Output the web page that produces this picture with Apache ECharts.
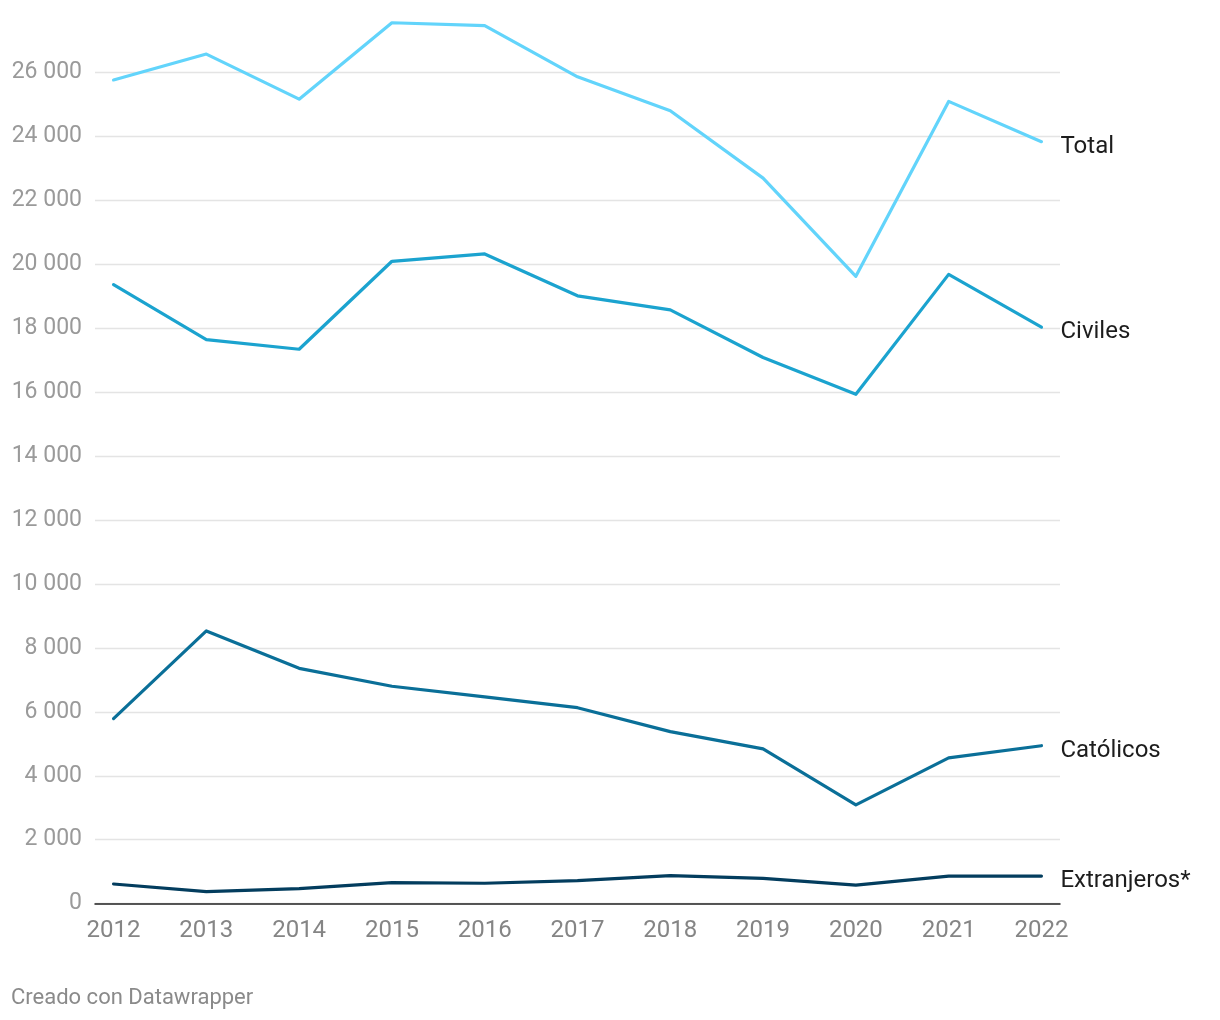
<!DOCTYPE html>
<html>
<head>
<meta charset="utf-8">
<script src="https://cdn.jsdelivr.net/npm/echarts@6/dist/echarts.min.js"></script>
<style>
html,body{margin:0;padding:0;background:#fff;}
#chart{width:1220px;height:1020px;}
</style>
</head>
<body>
<div id="chart"></div>
<script>
const years = [2012, 2013, 2014, 2015, 2016, 2017, 2018, 2019, 2020, 2021, 2022];
const total = [25760, 26570, 25160, 27550, 27460, 25860, 24800, 22690, 19620, 25090, 23830];
const civiles = [19360, 17640, 17340, 20090, 20320, 19010, 18570, 17080, 15930, 19680, 18030];
const catolicos = [5790, 8530, 7360, 6800, 6470, 6130, 5380, 4840, 3090, 4560, 4940];
const extranjeros = [616, 375, 470, 660, 640, 720, 875, 790, 580, 860, 865];
const seriesNames = ['Total', 'Civiles', 'Católicos', 'Extranjeros*'];
const yTicks = [0, 2000, 4000, 6000, 8000, 10000, 12000, 14000, 16000, 18000, 20000, 22000, 24000, 26000];

const colors = ['#62d4fb', '#1ba3cf', '#0a6f98', '#033d5e'];
const dataSets = [total, civiles, catolicos, extranjeros];

const chart = echarts.init(document.getElementById('chart'));
const FONT = 'Roboto';

chart.setOption({
  backgroundColor: '#ffffff',
  animation: false,
  textStyle: { fontFamily: FONT },
  grid: { left: 95, right: 160, top: 72.3, bottom: 116.3, containLabel: false },
  xAxis: {
    type: 'value',
    min: 2011.8,
    max: 2022.2,
    axisLine: { show: true, onZero: false, lineStyle: { color: '#222', width: 1.5 } },
    axisTick: { show: false },
    splitLine: { show: false },
    axisLabel: {
      customValues: years,
      color: '#858585',
      fontSize: 24,
      fontFamily: FONT,
      margin: 15,
      formatter: v => String(Math.round(v))
    }
  },
  yAxis: {
    type: 'value',
    min: 0,
    max: 26000,
    interval: 2000,
    axisLine: { show: false },
    axisTick: { show: false },
    splitLine: { show: true, lineStyle: { color: '#e4e4e4', width: 1.3 } },
    axisLabel: {
      color: '#9a9a9a',
      fontSize: 23,
      fontFamily: FONT,
      margin: 13,
      formatter: v => String(v).replace(/\B(?=(\d{3})+(?!\d))/g, ' ')
    }
  },
  series: dataSets.map((d, i) => ({
    name: seriesNames[i],
    type: 'line',
    clip: false,
    symbol: 'none',
    z: 10 - i,
    data: d.map((v, j) => [years[j], v]),
    lineStyle: { color: colors[i], width: 3.2, cap: 'round', join: 'round' },
    itemStyle: { color: colors[i] },
    endLabel: {
      show: true,
      formatter: seriesNames[i],
      color: '#1d1d1d',
      fontSize: 24,
      fontFamily: FONT,
      distance: 19,
      offset: [0, 5]
    }
  })),
  graphic: [{
    type: 'text',
    left: 11,
    top: 987,
    style: { text: 'Creado con Datawrapper', fill: '#8a8a8a', fontSize: 22, fontFamily: FONT }
  }]
});
</script>
</body>
</html>
